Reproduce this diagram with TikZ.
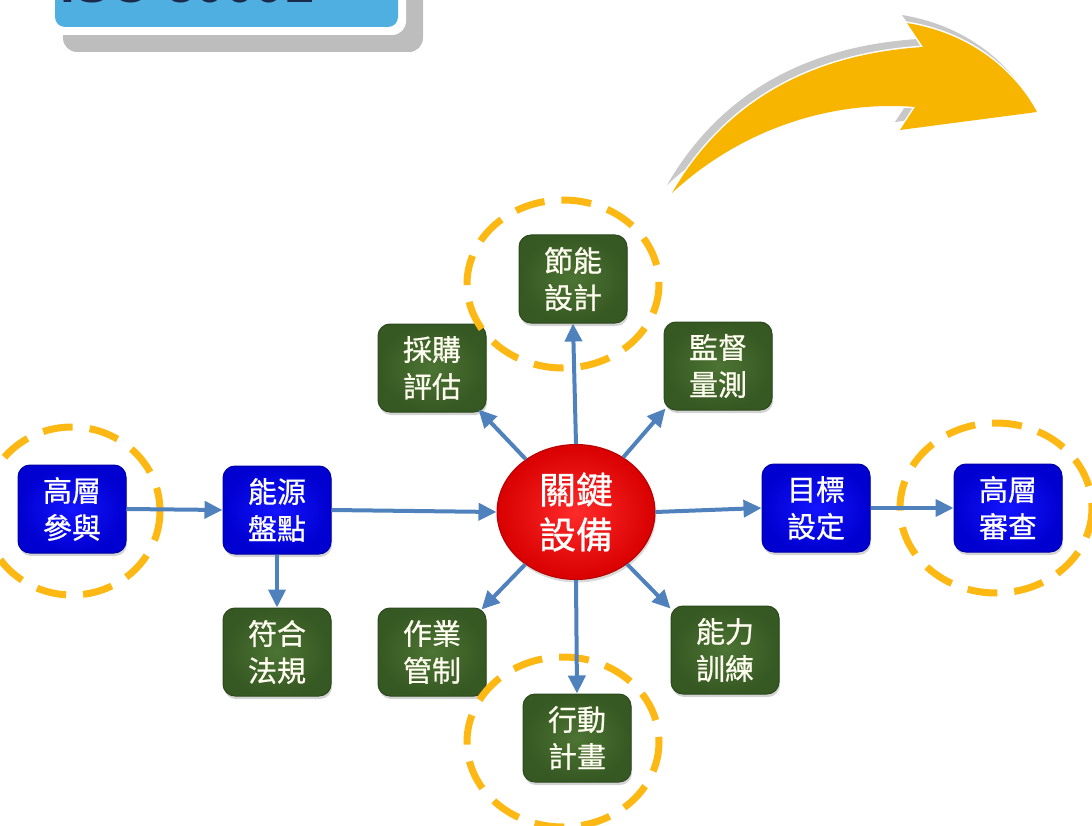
\documentclass[tikz,border=0pt]{standalone}
\usepackage{fontspec}
\setmainfont{Liberation Sans}
\newfontfamily\cjk[FakeBold=0.7]{Noto Sans CJK TC}
\usetikzlibrary{arrows.meta,shapes.geometric,shadows}
\definecolor{arr}{HTML}{4F81BD}
\definecolor{ringc}{HTML}{FDB813}
\definecolor{bluein}{HTML}{1414FF}
\definecolor{blueout}{HTML}{0000D0}
\definecolor{bluedk}{HTML}{0000A8}
\definecolor{greenin}{HTML}{4C7433}
\definecolor{greenout}{HTML}{365823}
\definecolor{greendk}{HTML}{2C4A1C}
\definecolor{redin}{HTML}{FF2A2A}
\definecolor{redout}{HTML}{D80000}
\definecolor{reddk}{HTML}{B80000}
\definecolor{isoblue}{HTML}{4FAFE1}
\definecolor{isonavy}{HTML}{1B2A4A}
\definecolor{shadowgray}{HTML}{BDBDBD}
\definecolor{swoop}{HTML}{F8B500}
\definecolor{swoopgray}{HTML}{C8C8C8}
\tikzset{
  boxbase/.style={rounded corners=12pt, minimum width=108pt, minimum height=88pt,
    inner sep=0pt, align=center, line width=1pt,
    font=\cjk\fontsize{29}{37}\selectfont,
    drop shadow={opacity=0.35, shadow xshift=1pt, shadow yshift=-3pt}},
  bluebox/.style={boxbase, draw=bluedk, shading=radial, inner color=bluein, outer color=blueout, text=white},
  greenbox/.style={boxbase, draw=greendk, shading=radial, inner color=greenin, outer color=greenout, text=white!94!yellow},
  keynode/.style={ellipse, minimum width=158pt, minimum height=135pt, inner sep=0pt,
    align=center, draw=reddk, line width=1pt, shading=radial, inner color=redin,
    outer color=redout, text=white, font=\cjk\fontsize{37}{45}\selectfont,
    drop shadow={opacity=0.3, shadow xshift=1pt, shadow yshift=-3pt}},
  conn/.style={draw=arr, line width=4pt, -{Triangle[length=18pt,width=17pt]}},
  ring/.style={draw=ringc, line width=7pt, dash pattern=on 30pt off 17pt},
}
\newcommand{\swooppath}{(672,193) .. controls (720,110) and (800,55) .. (923,47)
  -- (907,23) .. controls (980,35) and (1020,80) .. (1037,112)
  -- (900,130) -- (915,107) .. controls (830,100) and (740,130) .. cycle}
\begin{document}
\begin{tikzpicture}[x=1pt,y=-1pt]
\useasboundingbox (0,0) rectangle (1092,826);
% ISO banner
\fill[shadowgray, rounded corners=14pt] (63,-40) rectangle (423,52);
\fill[white, rounded corners=14pt] (48,-40) rectangle (406,35);
\fill[isoblue, rounded corners=10pt] (55,-40) rectangle (398,27);
\node[anchor=base west, inner sep=0pt, text=isonavy, font=\fontsize{53}{60}\selectfont\bfseries] (iso) at (60,3) {ISO 50001};
% swoop arrow
\begin{scope}[shift={(-5,-8)}]
\fill[swoopgray] \swooppath;
\end{scope}
\filldraw[fill=swoop, draw=white, line width=3pt, line join=miter] \swooppath;
\fill[swoop] \swooppath;
% nodes
\node[bluebox] (gc) at (72,509) {高層\\參與};
\node[bluebox] (ny) at (277,510) {能源\\盤點};
\node[greenbox] (fh) at (277,652) {符合\\法規};
\node[greenbox] (zy) at (432,652) {作業\\管制};
\node[greenbox] (cg) at (432,368) {採購\\評估};
\node[greenbox] (jn) at (573,279) {節能\\設計};
\node[greenbox] (jd) at (718,366) {監督\\量測};
\node[keynode] (k) at (576,512) {關鍵\\設備};
\node[bluebox] (mb) at (816,508) {目標\\設定};
\node[bluebox] (sc) at (1008,508) {高層\\審查};
\node[greenbox] (nl) at (725,650) {能力\\訓練};
\node[greenbox] (xd) at (577,738) {行動\\計畫};
% dashed rings
\draw[ring] (72,511) ellipse[x radius=88, y radius=84];
\draw[ring] (563,284) ellipse[x radius=96, y radius=84];
\draw[ring] (563,742) ellipse[x radius=96, y radius=85];
\draw[ring] (996,508) ellipse[x radius=96, y radius=85];
% connectors
\draw[conn] (gc.east) -- (ny.west);
\draw[conn] (ny.east) -- (k.west);
\draw[conn] (ny.south) -- (fh.north);
\draw[conn] (k.east) -- (mb.west);
\draw[conn] (mb.east) -- (sc.west);
\draw[conn] (k.north) -- (jn.south);
\draw[conn] (k.south) -- (xd.north);
\draw[conn] (k) -- ([shift={(-8,-3)}]cg.south east);
\draw[conn] (k) -- ([shift={(2,-2)}]jd.south west);
\draw[conn] (k) -- ([shift={(-5,2)}]zy.north east);
\draw[conn] (k) -- ([shift={(0,3)}]nl.north west);
\end{tikzpicture}
\end{document}
